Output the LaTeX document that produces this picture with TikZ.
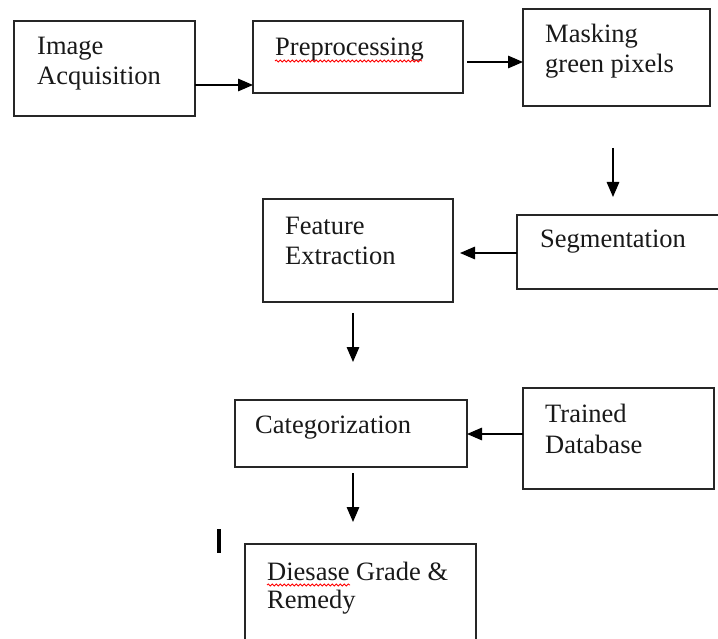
\documentclass[tikz,border=0pt]{standalone}
\usepackage{fontspec}
\setmainfont{Liberation Serif}
\usetikzlibrary{arrows.meta,decorations.pathmorphing}
\tikzset{
  box/.style={draw=black!85, line width=1.9pt, inner sep=0pt, outer sep=0pt, anchor=north west},
  lbl/.style={inner sep=0pt, anchor=base west, font=\fontsize{26.5}{30}\selectfont, text=black!90},
  arr/.style={line width=1.5pt, -{Triangle[length=15pt,width=12.5pt]}},
  spell/.style={red, line width=0.8pt, decorate, decoration={snake, amplitude=1.1pt, segment length=4pt}}
}
\begin{document}
\begin{tikzpicture}[x=1pt,y=-1pt]
\clip (0,0) rectangle (718,639);
\fill[white] (0,0) rectangle (718,639);
% boxes
\node[box, minimum width=181pt, minimum height=95pt] (acq) at (14,21) {};
\node[box, minimum width=210pt, minimum height=72pt] (pre) at (253,21) {};
\node[box, minimum width=187pt, minimum height=97pt] (mask) at (523,9) {};
\node[box, minimum width=215pt, minimum height=74pt] (seg) at (517,215) {};
\node[box, minimum width=190pt, minimum height=103pt] (feat) at (263,199) {};
\node[box, minimum width=232pt, minimum height=67pt] (cat) at (235,400) {};
\node[box, minimum width=191pt, minimum height=101pt] (db) at (523,388) {};
\node[box, minimum width=231pt, minimum height=120pt] (dis) at (245,544) {};
% texts
\node[lbl] (acqA) at (37,55) {Image};
\node[lbl] (acqB) at (37,85) {Acquisition};
\node[lbl] (preA) at (275,56) {Preprocessing};
\node[lbl] (maskA) at (545,43) {Masking};
\node[lbl] (maskB) at (545,73) {green pixels};
\node[lbl] (segA) at (540,248) {Segmentation};
\node[lbl] (featA) at (285,235) {Feature};
\node[lbl] (featB) at (285,265) {Extraction};
\node[lbl] (catA) at (255,433) {Categorization};
\node[lbl] (dbA) at (545,422) {Trained};
\node[lbl] (dbB) at (545,453) {Database};
\node[lbl] (disA) at (267,580) {Diesase Grade \&};
\node[lbl] (disB) at (267,608) {Remedy};
% spell-check marks
\draw[spell] (275,61) -- (422,61);
\draw[spell] (267,585) -- (350,585);
% cursor mark
\fill[black] (217,529) rectangle (221,553);
% free arrow ends
\coordinate (c1) at (613,148);
\coordinate (c2) at (613,197);
\coordinate (e1) at (353,313);
\coordinate (e2) at (353,362);
\coordinate (g1) at (353,473);
\coordinate (g2) at (353,522);
\coordinate (fd) at (460,253);
% connectors
\draw[arr] (acq.east |- 0,85) -- (pre.west |- 0,85);
\draw[arr] (pre.east |- 0,62) ++(4,0) -- (mask.west |- 0,62);
\draw[arr] (c1) -- (c2);
\draw[arr] (seg.west |- fd) -- (fd);
\draw[arr] (e1) -- (e2);
\draw[arr] (db.west |- 0,434) -- (cat.east |- 0,434);
\draw[arr] (g1) -- (g2);
\end{tikzpicture}
\end{document}
